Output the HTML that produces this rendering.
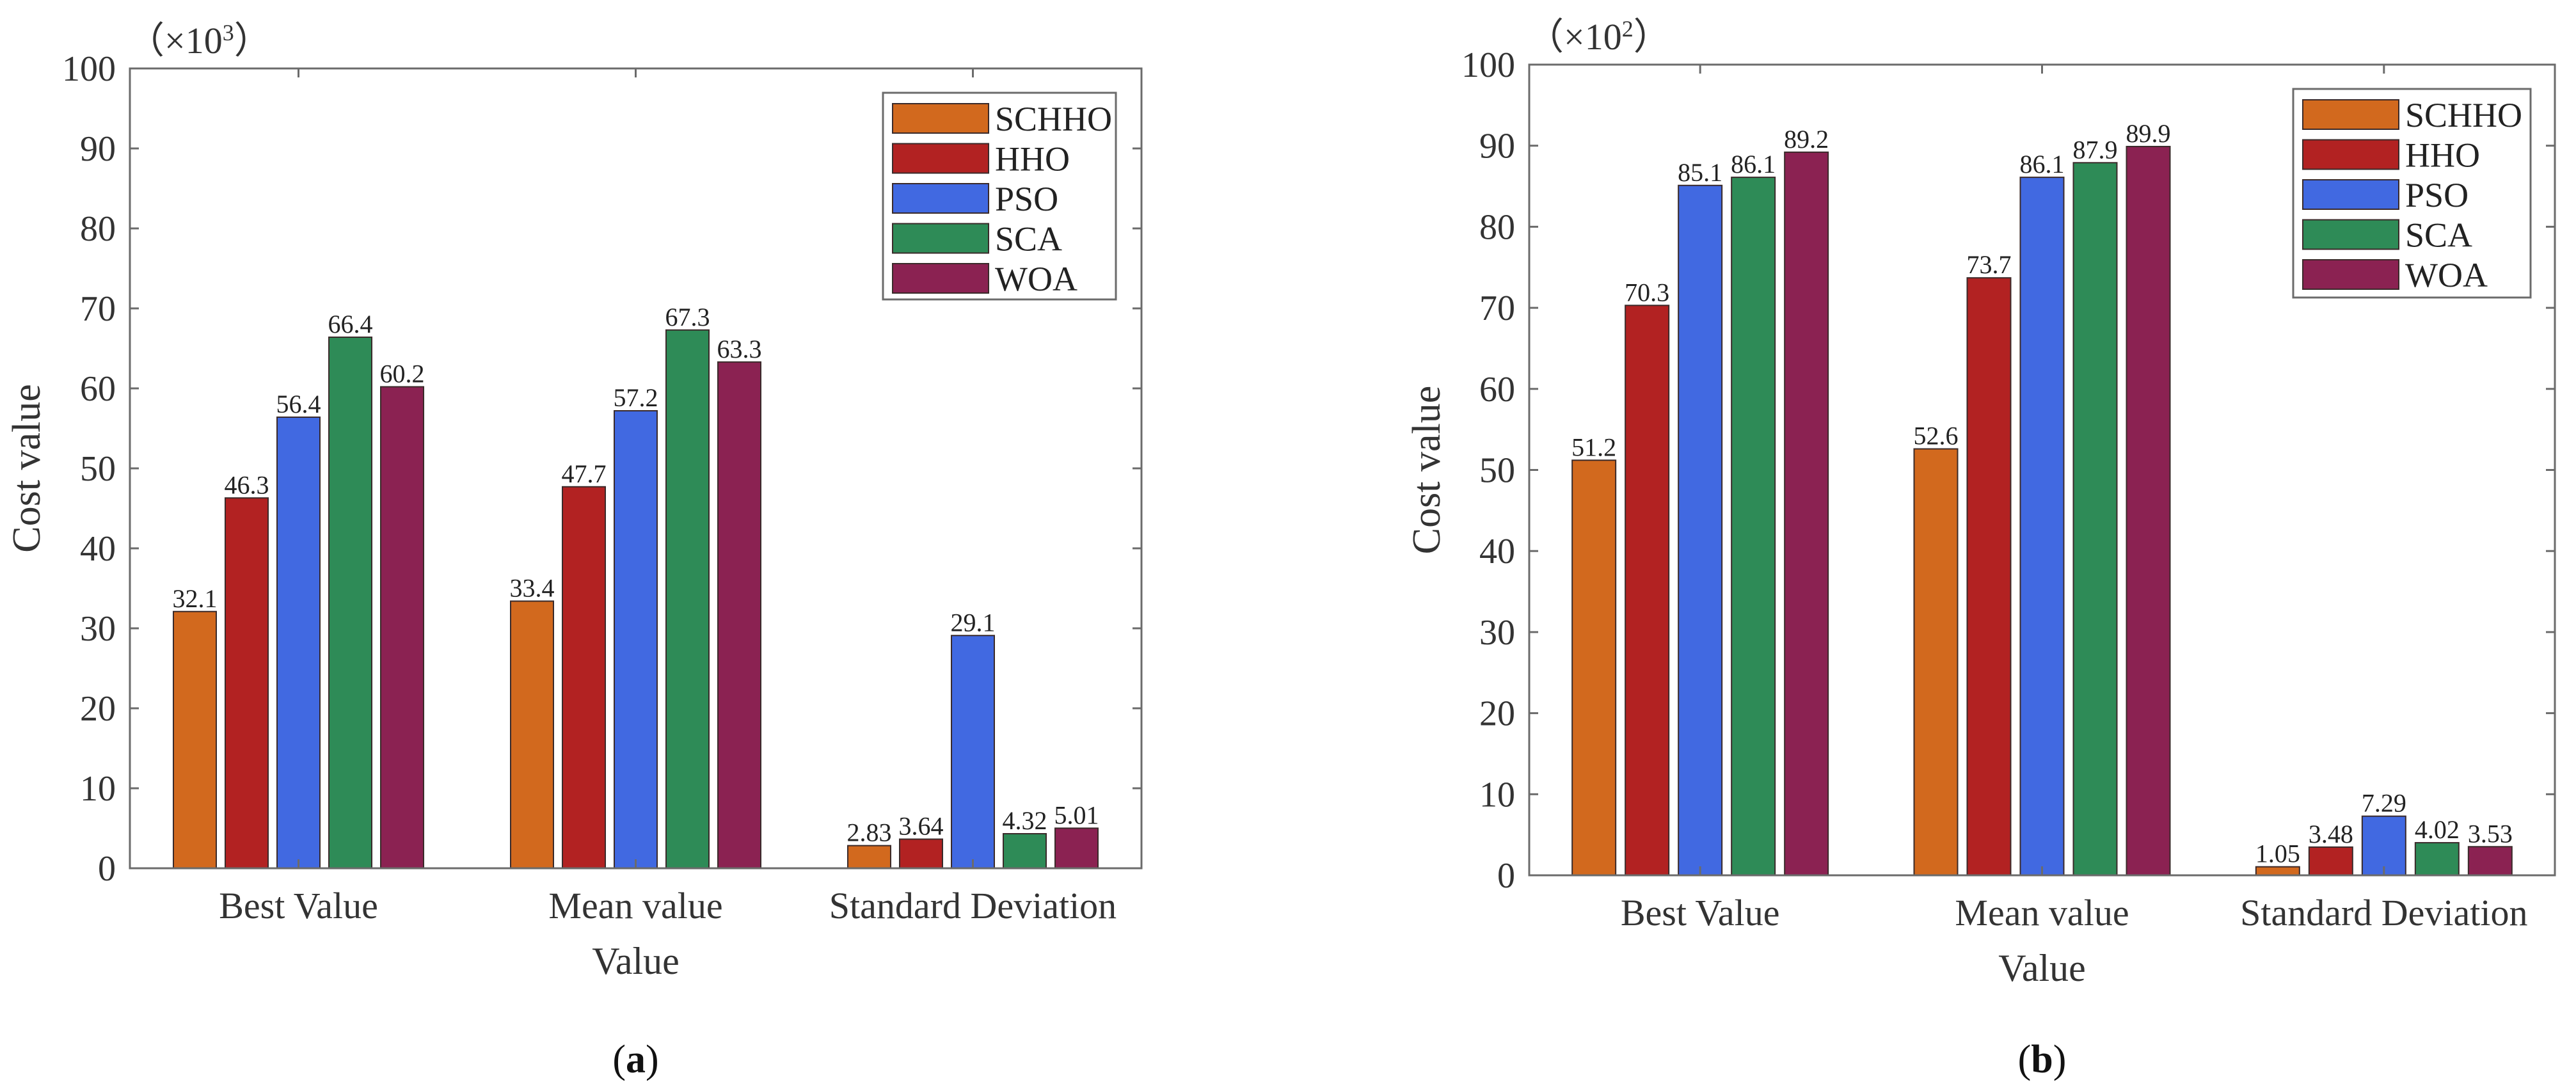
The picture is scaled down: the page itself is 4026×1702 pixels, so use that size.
<!DOCTYPE html>
<html><head><meta charset="utf-8">
<style>
html,body{margin:0;padding:0;background:#fff;}
svg{display:block;font-family:"Liberation Serif",serif;}
</style></head>
<body>
<svg id="fig" width="4026" height="1702" viewBox="0 0 4026 1702" xmlns="http://www.w3.org/2000/svg"></svg>
<script>
const categories = ["Best Value", "Mean value", "Standard Deviation"];
const seriesNames = ["SCHHO", "HHO", "PSO", "SCA", "WOA"];
const seriesColors = ["#d2691e", "#b22222", "#4169e1", "#2e8b57", "#8b2252"];
const valuesA_SCHHO = [32.1, 33.4, 2.83];
const valuesA_HHO = [46.3, 47.7, 3.64];
const valuesA_PSO = [56.4, 57.2, 29.1];
const valuesA_SCA = [66.4, 67.3, 4.32];
const valuesA_WOA = [60.2, 63.3, 5.01];
const labelsA = [["32.1","33.4","2.83"],["46.3","47.7","3.64"],["56.4","57.2","29.1"],["66.4","67.3","4.32"],["60.2","63.3","5.01"]];
const valuesB_SCHHO = [51.2, 52.6, 1.05];
const valuesB_HHO = [70.3, 73.7, 3.48];
const valuesB_PSO = [85.1, 86.1, 7.29];
const valuesB_SCA = [86.1, 87.9, 4.02];
const valuesB_WOA = [89.2, 89.9, 3.53];
const labelsB = [["51.2","52.6","1.05"],["70.3","73.7","3.48"],["85.1","86.1","7.29"],["86.1","87.9","4.02"],["89.2","89.9","3.53"]];
const yTicks = [0,10,20,30,40,50,60,70,80,90,100];

const NS = "http://www.w3.org/2000/svg";
const svg = document.getElementById("fig");
function mk(tag, attrs, parent, text){
  const e = document.createElementNS(NS, tag);
  for (const k in attrs) e.setAttribute(k, attrs[k]);
  if (text !== undefined) e.textContent = text;
  (parent||svg).appendChild(e);
  return e;
}

function drawChart(cfg){
  const g = mk("g", {});
  
  
  const {L,R,T,B} = cfg;
  const y = v => B - (v/100)*(B-T);
  const x = i => L + (R-L)*(2*i+1)/6;
  const axisColor = "#6b6b6b";
  cfg.series.forEach((vals, s) => {
    vals.forEach((v, i) => {
      const cx = x(i) + (s-2)*cfg.pitch;
      const r = mk("rect", {x: cx - cfg.bw/2, y: y(v), width: cfg.bw, height: B - y(v), fill: seriesColors[s], stroke: "#3a2a2a", "stroke-width": 2}, g);
      
      
      const t = mk("text", {x: cx, y: y(v) - 7, "font-size": 40, "text-anchor": "middle", fill: "#222"}, g, cfg.labels[s][i]);
      
      
    });
  });
  const box = mk("rect", {x: L, y: T, width: R-L, height: B-T, fill: "none", stroke: axisColor, "stroke-width": 3}, g);
  
  
  yTicks.forEach(v => {
    mk("line", {x1: L, x2: L+14, y1: y(v), y2: y(v), stroke: axisColor, "stroke-width": 3}, g);
    mk("line", {x1: R, x2: R-14, y1: y(v), y2: y(v), stroke: axisColor, "stroke-width": 3}, g);
    const t = mk("text", {x: L-22, y: y(v)+19, "font-size": 56, "text-anchor": "end", fill: "#333"}, g, String(v));
    
    
  });
  categories.forEach((c, i) => {
    mk("line", {x1: x(i), x2: x(i), y1: B, y2: B-14, stroke: axisColor, "stroke-width": 3}, g);
    mk("line", {x1: x(i), x2: x(i), y1: T, y2: T+14, stroke: axisColor, "stroke-width": 3}, g);
    const t = mk("text", {x: x(i), y: B+78, "font-size": 58, "text-anchor": "middle", fill: "#333"}, g, c);
    
    
  });
  const xt = mk("text", {x: (L+R)/2, y: B+165, "font-size": 60, "text-anchor": "middle", fill: "#333"}, g, "Value");
  
  
  const yt = mk("text", {x: 0, y: 0, "font-size": 62, "text-anchor": "middle", fill: "#333", transform: `translate(${cfg.ytX},${(T+B)/2}) rotate(-90)`}, g, "Cost value");
  
  
  const ex = mk("text", {x: L-4, y: T-24, "font-size": 58, fill: "#333"}, g);
  
  
  mk("tspan", {}, ex, "（×10");
  mk("tspan", {"font-size": 36, dy: -20}, ex, cfg.exp);
  mk("tspan", {dy: 20}, ex, "）");
  const lg = mk("g", {}, g);
  
  
  mk("rect", {x: cfg.lgX, y: cfg.lgY, width: cfg.lgW, height: cfg.lgH, fill: "#fff", stroke: axisColor, "stroke-width": 3}, lg);
  seriesNames.forEach((n, s) => {
    const cy = cfg.lgY + 40 + s*62.5;
    const e = mk("g", {}, lg);
    
    
    mk("rect", {x: cfg.lgX+15, y: cy-23, width: 150, height: 46, fill: seriesColors[s], stroke: "#3a2a2a", "stroke-width": 2}, e);
    mk("text", {x: cfg.lgX+175, y: cy+19, "font-size": 54, fill: "#222"}, e, n);
  });
  const cap = mk("text", {x: (L+R)/2, y: 1676, "font-size": 62, "text-anchor": "middle", fill: "#111"}, g);
  
  
  mk("tspan", {}, cap, "(");
  mk("tspan", {"font-weight": "bold"}, cap, cfg.cap);
  mk("tspan", {}, cap, ")");
}

drawChart({name: "chart-a", L: 203, R: 1784, T: 107, B: 1357, bw: 67, pitch: 81,
  series: [valuesA_SCHHO, valuesA_HHO, valuesA_PSO, valuesA_SCA, valuesA_WOA], labels: labelsA,
  ytX: 62, exp: "3", lgX: 1380, lgY: 145, lgW: 364, lgH: 323, cap: "a"});
drawChart({name: "chart-b", L: 2390, R: 3993, T: 101, B: 1368, bw: 68, pitch: 83,
  series: [valuesB_SCHHO, valuesB_HHO, valuesB_PSO, valuesB_SCA, valuesB_WOA], labels: labelsB,
  ytX: 2250, exp: "2", lgX: 3584, lgY: 139, lgW: 371, lgH: 326, cap: "b"});
</script>
</body></html>
